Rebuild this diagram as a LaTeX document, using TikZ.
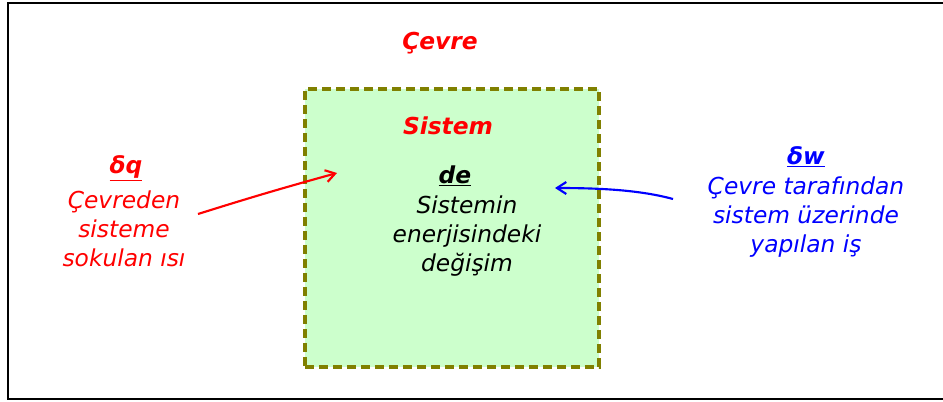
\documentclass[tikz,border=0pt]{standalone}
\usepackage{fontspec}
\setmainfont{DejaVu Sans}
\usetikzlibrary{arrows.meta}
\definecolor{sysfill}{HTML}{CCFFCC}
\definecolor{olivebd}{HTML}{808000}
\begin{document}
\begin{tikzpicture}[x=0.75pt,y=-0.75pt,
  txt/.style={font=\fontsize{17.5}{21.75}\selectfont\itshape, align=center, inner sep=0pt},
  hdr/.style={font=\fontsize{17.5}{21.75}\selectfont\bfseries\itshape, inner sep=0pt},
  conn/.style={line width=1.6pt}]
\useasboundingbox (0,0) rectangle (943,401);
\fill[white] (0,0) rectangle (943,401);
\draw[line width=1.6pt] (945,3) -- (8,3) -- (8,399) -- (945,399);
\node[draw=olivebd, fill=sysfill, line width=2.8pt, dash pattern=on 6.5pt off 4pt,
  minimum width=294*0.75pt, minimum height=278*0.75pt, inner sep=0pt, anchor=north west] (sys) at (303,87) {};
\node[hdr, text=red] (cevre) at (440,43) {Çevre};
\node[hdr, text=red] (sistem) at (448,126) {Sistem};
\node[hdr] (de) at (455,176) {\underline{de}};
\node[txt] (dedesc) at (467,236) {Sistemin\\enerjisindeki\\değişim};
\node[hdr, text=red] (dq) at (126,168) {\underline{δq}};
\node[txt, text=red] (dqdesc) at (124,229) {Çevreden\\sisteme\\sokulan ısı};
\node[hdr, text=blue] (dw) at (806,157) {\underline{δw}};
\node[txt, text=blue] (dwdesc) at (806,217) {Çevre tarafından\\sistem üzerinde\\yapılan iş};
\coordinate (qs) at (198,214);
\coordinate (qe) at (337,173);
\coordinate (ws) at (673,199);
\coordinate (we) at (555,188);
\draw[conn, red, -{Straight Barb[length=7pt,width=9pt]}] (qs) to[bend left=1] (qe);
\draw[conn, blue, -{Straight Barb[length=7pt,width=9pt]}] (ws) .. controls (640,190) and (600,188) .. (we);
\end{tikzpicture}
\end{document}
